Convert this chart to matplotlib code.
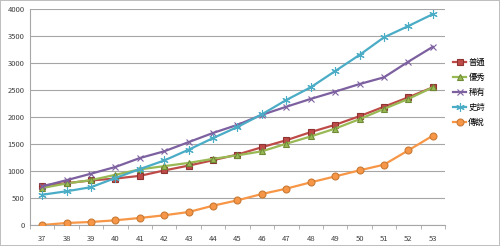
import numpy as np
import matplotlib
matplotlib.use("Agg")
import matplotlib.pyplot as plt

plt.rcParams['font.family'] = ['Noto Sans CJK TC', 'DejaVu Sans']

# levels on the x axis
levels = [str(v) for v in range(37, 54)]

# values per rarity
putong = [730, 775, 825, 860, 910, 1010, 1100, 1200, 1305, 1440, 1570, 1720, 1855, 2015, 2190, 2365, 2550]
youxiu = [685, 770, 830, 930, 1030, 1090, 1150, 1225, 1290, 1365, 1505, 1640, 1785, 1960, 2150, 2335, 2550]
xiyou = [715, 830, 950, 1075, 1240, 1365, 1535, 1705, 1855, 2040, 2190, 2335, 2470, 2610, 2735, 3025, 3300]
shishi = [560, 625, 700, 870, 1035, 1195, 1395, 1610, 1815, 2050, 2315, 2550, 2850, 3150, 3475, 3685, 3905]
chuanshuo = [0, 37, 56, 87, 130, 180, 240, 358, 457, 574, 673, 790, 900, 1012, 1117, 1383, 1654]

names = ['普通', '優秀', '稀有', '史詩', '傳說']
series = [putong, youxiu, xiyou, shishi, chuanshuo]
colors = ['#BE4B48', '#98B954', '#7D60A0', '#4BACC6', '#F79646']
edges = ['#8E3432', '#6F8B36', '#5A4478', '#3A8AA0', '#C87A35']
markers = ['s', '^', 'x', (6, 2, 0), 'o']
msizes = [5, 5, 5, 6, 5]

fig = plt.figure(figsize=(5.0, 2.46), dpi=100)
fig.patch.set_edgecolor('#BFBFBF')
fig.patch.set_linewidth(1.2)
ax = fig.add_axes([0.06, 0.0854, 0.83, 0.878])

x = np.arange(len(levels))
for name, vals, c, ec, m, ms in zip(names, series, colors, edges, markers, msizes):
    ax.plot(x, vals, color=c, lw=1.6, marker=m, markersize=ms,
            markerfacecolor=c, markeredgecolor=c if m in ('x', (6, 2, 0)) else ec,
            markeredgewidth=0.8, label=name, zorder=3)

ax.set_xlim(-0.5, len(levels) - 0.5)
ax.set_ylim(0, 4000)
ax.set_yticks(np.arange(0, 4001, 500))
ax.yaxis.grid(True, color='#A6A6A6', lw=0.8)
ax.set_axisbelow(True)

ax.set_xticks(x)
ax.set_xticklabels(levels)
ax.set_xticks(np.arange(-0.5, len(levels), 1), minor=True)
ax.tick_params(axis='x', which='major', length=0, labelsize=5.5, pad=7, colors='#404040')
ax.tick_params(axis='x', which='minor', length=3, color='#A6A6A6', direction='out')
ax.tick_params(axis='y', length=0, labelsize=5.5, pad=4, colors='#404040')

for s in ['top', 'right']:
    ax.spines[s].set_visible(False)
for s in ['left', 'bottom']:
    ax.spines[s].set_color('#A6A6A6')
    ax.spines[s].set_linewidth(0.8)

leg = ax.legend(loc='upper left', bbox_to_anchor=(1.005, 0.80), frameon=False,
                fontsize=6, handlelength=1.6, handletextpad=0.25,
                labelspacing=0.72, borderaxespad=0.3)

fig.savefig('out.png', dpi=100, edgecolor=fig.get_edgecolor())
